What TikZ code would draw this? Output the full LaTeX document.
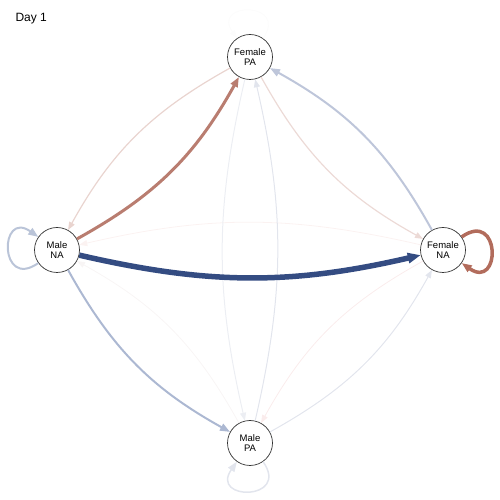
\documentclass[tikz,border=0pt]{standalone}
\usepackage{fontspec}
\setmainfont{Liberation Sans}
\usetikzlibrary{arrows.meta}

% edge colours
\definecolor{navyTie}{RGB}{52,76,130}
\definecolor{rustTie}{RGB}{185,125,112}
\definecolor{rustLoop}{RGB}{178,108,92}
\definecolor{slateA}{RGB}{172,184,210}
\definecolor{slateB}{RGB}{190,198,218}
\definecolor{slateLoop}{RGB}{186,196,216}
\definecolor{roseA}{RGB}{233,212,207}
\definecolor{roseB}{RGB}{236,218,214}
\definecolor{mistA}{RGB}{226,229,237}
\definecolor{mistB}{RGB}{236,238,243}
\definecolor{faintRose}{RGB}{251,242,241}
\definecolor{faintRoseB}{RGB}{250,236,236}
\definecolor{faintGrey}{RGB}{248,245,245}
\definecolor{ghost}{RGB}{252,252,252}

\begin{document}
\begin{tikzpicture}[x=1pt,y=1pt,
  actor/.style={circle, draw=black!80, line width=0.7pt, fill=white,
    minimum size=45pt, inner sep=0pt, align=center,
    font=\fontsize{9.5}{10.5}\selectfont},
  thin tie/.style={line width=#1, -{Triangle[length=8pt,width=6pt]}},
  mid tie/.style={line width=#1, -{Triangle[length=10pt,width=7.5pt]}},
  heavy tie/.style={line width=#1, -{Triangle[length=13pt,width=10pt]}},
]
\useasboundingbox (0,0) rectangle (500,500);

\node[anchor=base west, font=\fontsize{12}{14}\selectfont] (title) at (12,478) {Day 1};

\node[actor] (fpa) at (250,443) {Female\\PA};
\node[actor] (mna) at (57,250) {Male\\NA};
\node[actor] (fna) at (443,250) {Female\\NA};
\node[actor] (mpa) at (250,57) {Male\\PA};

% faint ties first
\draw[thin tie=0.8pt, draw=faintRose] (fna) to[bend right=13] (mna);
\draw[thin tie=0.8pt, draw=faintGrey] (mpa) to[bend right=16] (mna);
\draw[thin tie=0.8pt, draw=faintRoseB] (fna) to[bend right=16] (mpa);
\draw[thin tie=1pt, draw=mistB] (fpa) to[bend right=13] (mpa);
\draw[thin tie=1pt, draw=mistA] (mpa) to[bend right=13] (fpa);
\draw[thin tie=1pt, draw=mistA] (mpa) to[bend right=16] (fna);
\draw[thin tie=1.2pt, draw=roseA] (fpa) to[bend right=16] (mna);
\draw[thin tie=1.2pt, draw=roseB] (fpa) to[bend right=16] (fna);

% stronger ties
\draw[mid tie=2pt, draw=slateB] (fna) to[bend right=16] (fpa);
\draw[mid tie=2pt, draw=slateA] (mna) to[bend right=16] (mpa);
\draw[mid tie=3pt, draw=rustTie] (mna) to[bend right=16] (fpa);
\draw[heavy tie=5.5pt, draw=navyTie] (mna) to[bend right=13] (fna);

% self ties
\draw[thin tie=1pt, draw=ghost] (fpa.55) .. controls +(55:45) and +(125:45) .. (fpa.125);
\draw[mid tie=2pt, draw=slateLoop] (mna.215) .. controls +(215:48) and +(145:48) .. (mna.145);
\draw[mid tie=3.5pt, draw=rustLoop] (fna.35) .. controls +(35:48) and +(-35:48) .. (fna.-35);
\draw[mid tie=1.5pt, draw=mistA] (mpa.-55) .. controls +(-55:48) and +(-125:48) .. (mpa.-125);
\end{tikzpicture}
\end{document}
